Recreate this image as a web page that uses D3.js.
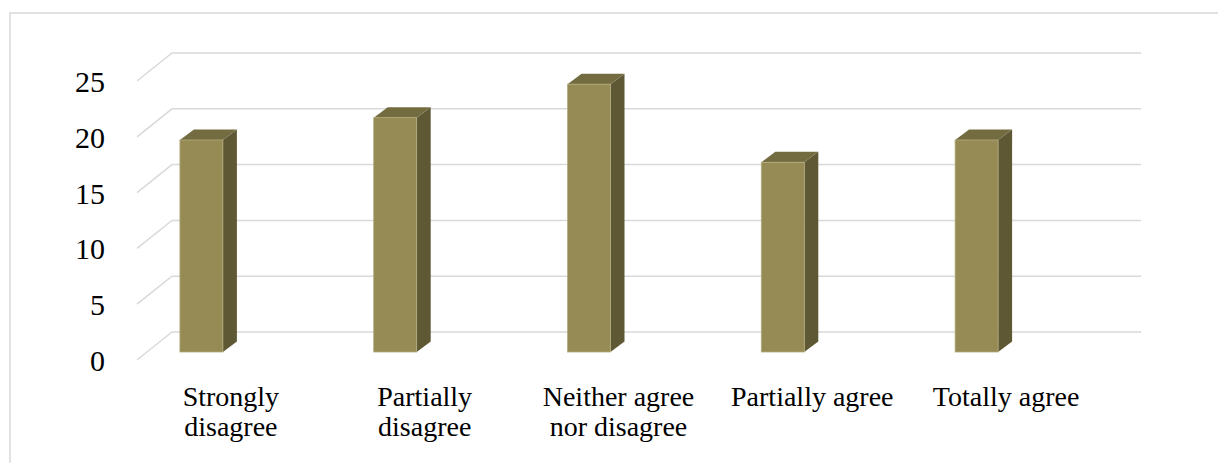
<!DOCTYPE html>
<html>
<head>
<meta charset="utf-8">
<script src="https://cdn.jsdelivr.net/npm/d3@7"></script>
<style>
  body { margin: 0; background: #fff; }
</style>
</head>
<body>
<div id="chart"></div>
<script>
// data
const categories = [
  ["Strongly", "disagree"],
  ["Partially", "disagree"],
  ["Neither agree", "nor disagree"],
  ["Partially agree"],
  ["Totally agree"]
];
const values = [19, 21, 24, 17, 19];
const yTicks = [0, 5, 10, 15, 20, 25];

const width = 1218, height = 463;
const font = "'Liberation Serif', serif";

// 3d-ish layout
const depth = [35, -28];        // floor depth (front -> back wall)
const barDepth = [14, -10.5];   // depth of one bar
const barShift = [0, -8];       // bars sit a bit behind the front edge
const barW = 43;

const svg = d3.select("#chart").append("svg")
  .attr("width", width)
  .attr("height", height)
  .attr("viewBox", [0, 0, width, height]);

// outer chart border (cut off at right and bottom)
svg.append("rect")
  .attr("x", 10).attr("y", 13)
  .attr("width", 1240).attr("height", 480)
  .attr("fill", "none")
  .attr("stroke", "#d9d9d9")
  .attr("stroke-width", 1.5);

const x = d3.scaleBand()
  .domain(d3.range(categories.length))
  .range([134, 1103]);

const y = d3.scaleLinear()
  .domain([0, 25])
  .range([360, 81]);

const gridL = 137, gridR = 1106;

// gridlines: side wall diagonal + back wall horizontal
svg.append("g").selectAll("path")
  .data(yTicks)
  .join("path")
  .attr("d", t => {
    const p = d3.path();
    p.moveTo(gridL, y(t));
    p.lineTo(gridL + depth[0], y(t) + depth[1]);
    p.lineTo(gridR + depth[0], y(t) + depth[1]);
    return p.toString();
  })
  .attr("fill", "none")
  .attr("stroke", "#d9d9d9")
  .attr("stroke-width", 1.5);

// y tick labels
svg.append("g")
  .attr("font-family", font)
  .selectAll("text")
  .data(yTicks)
  .join("text")
  .attr("x", 105)
  .attr("y", t => y(t) + 11)
  .attr("text-anchor", "end")
  .attr("font-size", 30)
  .attr("fill", "#000")
  .text(t => t);

// bars
const bars = svg.append("g").selectAll("g")
  .data(values)
  .join("g");

function barGeom(v, i) {
  const x0 = x(i) + x.bandwidth() / 2 - 51 + barShift[0];
  const x1 = x0 + barW;
  const yb = y(0) + barShift[1];
  const yt = y(v) + barShift[1];
  return { x0, x1, yb, yt };
}

// side face
bars.append("path")
  .attr("d", (v, i) => {
    const g = barGeom(v, i);
    return `M${g.x1},${g.yt}L${g.x1 + barDepth[0]},${g.yt + barDepth[1]}` +
      `L${g.x1 + barDepth[0]},${g.yb + barDepth[1]}L${g.x1},${g.yb}Z`;
  })
  .attr("fill", "#5e5834");

// top face
bars.append("path")
  .attr("d", (v, i) => {
    const g = barGeom(v, i);
    return `M${g.x0},${g.yt}L${g.x0 + barDepth[0]},${g.yt + barDepth[1]}` +
      `L${g.x1 + barDepth[0]},${g.yt + barDepth[1]}L${g.x1},${g.yt}Z`;
  })
  .attr("fill", "#746c41");

// front face
bars.append("rect")
  .attr("x", (v, i) => barGeom(v, i).x0)
  .attr("y", (v, i) => barGeom(v, i).yt)
  .attr("width", barW)
  .attr("height", (v, i) => barGeom(v, i).yb - barGeom(v, i).yt)
  .attr("fill", "#968b55")
  .attr("stroke", "#b3ab7f")
  .attr("stroke-width", 0.8);

// category labels
const labels = svg.append("g")
  .attr("font-family", font)
  .selectAll("text")
  .data(categories)
  .join("text")
  .attr("text-anchor", "middle")
  .attr("font-size", 28)
  .attr("fill", "#000");

labels.selectAll("tspan")
  .data((d, i) => d.map(line => ({ line, i })))
  .join("tspan")
  .attr("x", d => x(d.i) + x.bandwidth() / 2)
  .attr("y", (d, j) => 406 + j * 30)
  .text(d => d.line);
</script>
</body>
</html>
